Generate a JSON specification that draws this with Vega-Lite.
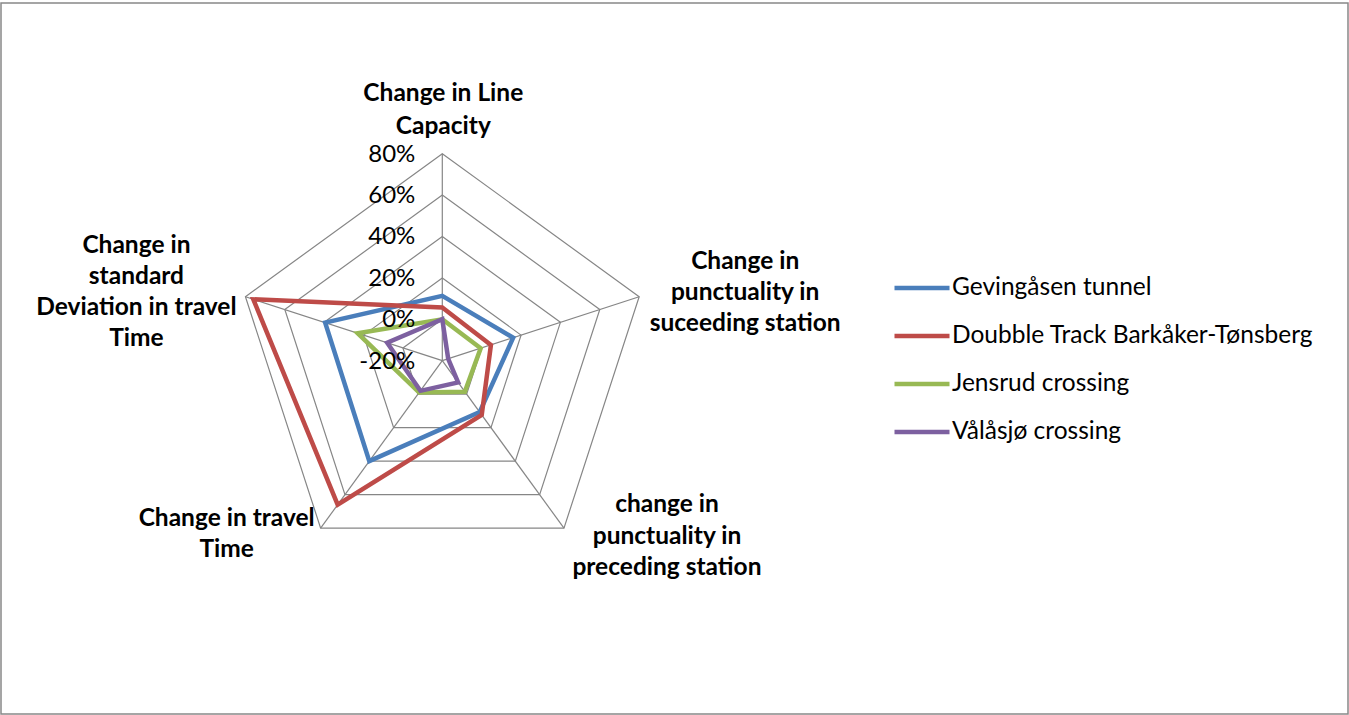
{
  "$schema": "https://vega.github.io/schema/vega-lite/v6.json",
  "width": 1349,
  "height": 715,
  "autosize": {"type": "fit", "contains": "padding"},
  "padding": {"left": 1, "top": 3, "right": 1, "bottom": 1},
  "background": "white",
  "config": {"view": {"stroke": "#888888", "strokeWidth": 1.5}, "font": "Lato"},
  "datasets": {
    "axes": [
      {"axis": "Change in Line Capacity", "idx": 0, "label": "Change in Line\nCapacity"},
      {"axis": "Change in punctuality in suceeding station", "idx": 1, "label": "Change in\npunctuality in\nsuceeding station"},
      {"axis": "change in punctuality in preceding station", "idx": 2, "label": "change in\npunctuality in\npreceding station"},
      {"axis": "Change in travel Time", "idx": 3, "label": "Change in travel\nTime"},
      {"axis": "Change in standard Deviation in travel Time", "idx": 4, "label": "Change in\nstandard\nDeviation in travel\nTime"}
    ],
    "rings": [
      {"level": 0, "k": [0, 1, 2, 3, 4]},
      {"level": 0.2, "k": [0, 1, 2, 3, 4]},
      {"level": 0.4, "k": [0, 1, 2, 3, 4]},
      {"level": 0.6, "k": [0, 1, 2, 3, 4]},
      {"level": 0.8, "k": [0, 1, 2, 3, 4]}
    ],
    "ticks": [
      {"level": -0.2, "text": "-20%"},
      {"level": 0, "text": "0%"},
      {"level": 0.2, "text": "20%"},
      {"level": 0.4, "text": "40%"},
      {"level": 0.6, "text": "60%"},
      {"level": 0.8, "text": "80%"}
    ],
    "scores": [
      {"series": "Gevingåsen tunnel", "axis": "Change in Line Capacity", "value": 0.113},
      {"series": "Gevingåsen tunnel", "axis": "Change in punctuality in suceeding station", "value": 0.16},
      {"series": "Gevingåsen tunnel", "axis": "change in punctuality in preceding station", "value": 0.107},
      {"series": "Gevingåsen tunnel", "axis": "Change in travel Time", "value": 0.40},
      {"series": "Gevingåsen tunnel", "axis": "Change in standard Deviation in travel Time", "value": 0.395},
      {"series": "Doubble Track Barkåker-Tønsberg", "axis": "Change in Line Capacity", "value": 0.057},
      {"series": "Doubble Track Barkåker-Tønsberg", "axis": "Change in punctuality in suceeding station", "value": 0.047},
      {"series": "Doubble Track Barkåker-Tønsberg", "axis": "change in punctuality in preceding station", "value": 0.124},
      {"series": "Doubble Track Barkåker-Tønsberg", "axis": "Change in travel Time", "value": 0.66},
      {"series": "Doubble Track Barkåker-Tønsberg", "axis": "Change in standard Deviation in travel Time", "value": 0.76},
      {"series": "Jensrud crossing", "axis": "Change in Line Capacity", "value": 0.0},
      {"series": "Jensrud crossing", "axis": "Change in punctuality in suceeding station", "value": -0.005},
      {"series": "Jensrud crossing", "axis": "change in punctuality in preceding station", "value": -0.015},
      {"series": "Jensrud crossing", "axis": "Change in travel Time", "value": -0.01},
      {"series": "Jensrud crossing", "axis": "Change in standard Deviation in travel Time", "value": 0.23},
      {"series": "Vålåsjø crossing", "axis": "Change in Line Capacity", "value": 0.0},
      {"series": "Vålåsjø crossing", "axis": "Change in punctuality in suceeding station", "value": -0.17},
      {"series": "Vålåsjø crossing", "axis": "change in punctuality in preceding station", "value": -0.07},
      {"series": "Vålåsjø crossing", "axis": "Change in travel Time", "value": -0.02},
      {"series": "Vålåsjø crossing", "axis": "Change in standard Deviation in travel Time", "value": 0.08}
    ]
  },
  "encoding": {
    "x": {"field": "px", "type": "quantitative", "axis": null, "scale": {"domain": [-213.19, 437.54], "nice": false, "zero": false}},
    "y": {"field": "py", "type": "quantitative", "axis": null, "scale": {"domain": [-170.68, 172.8], "nice": false, "zero": false}}
  },
  "layer": [
    {
      "data": {"name": "rings"},
      "transform": [
        {"flatten": ["k"]},
        {"calculate": "datum.k * 2 * PI / 5", "as": "a"},
        {"calculate": "(datum.level * 100 + 20) * sin(datum.a)", "as": "px"},
        {"calculate": "(datum.level * 100 + 20) * cos(datum.a)", "as": "py"}
      ],
      "mark": {"type": "line", "interpolate": "linear-closed", "stroke": "#868686", "strokeWidth": 1.2},
      "encoding": {
        "detail": {"field": "level", "type": "nominal"},
        "order": {"field": "k", "type": "quantitative"}
      }
    },
    {
      "data": {"name": "axes"},
      "transform": [
        {"calculate": "datum.idx * 2 * PI / 5", "as": "a"},
        {"calculate": "100 * sin(datum.a)", "as": "px"},
        {"calculate": "100 * cos(datum.a)", "as": "py"}
      ],
      "mark": {"type": "rule", "stroke": "#868686", "strokeWidth": 1.2},
      "encoding": {
        "x": {"datum": 0, "type": "quantitative"},
        "y": {"datum": 0, "type": "quantitative"},
        "x2": {"field": "px"},
        "y2": {"field": "py"}
      }
    },
    {
      "data": {"name": "scores"},
      "transform": [
        {"lookup": "axis", "from": {"data": {"name": "axes"}, "key": "axis", "fields": ["idx"]}},
        {"calculate": "datum.idx * 2 * PI / 5", "as": "a"},
        {"calculate": "(datum.value * 100 + 20) * sin(datum.a)", "as": "px"},
        {"calculate": "(datum.value * 100 + 20) * cos(datum.a)", "as": "py"}
      ],
      "mark": {"type": "line", "interpolate": "linear-closed", "strokeWidth": 4.5, "strokeJoin": "miter"},
      "encoding": {
        "color": {
          "field": "series", "type": "nominal",
          "scale": {"domain": ["Gevingåsen tunnel", "Doubble Track Barkåker-Tønsberg", "Jensrud crossing", "Vålåsjø crossing"], "range": ["#4A7EBB", "#BE4B48", "#98B954", "#7D60A0"]},
          "legend": {
            "orient": "none", "legendX": 891, "legendY": 271, "title": null,
            "symbolType": "stroke", "symbolSize": 3025, "symbolStrokeWidth": 4.5,
            "labelFontSize": 24.5, "labelFont": "Lato", "labelColor": "#000000", "labelOffset": 0,
            "rowPadding": 20, "clipHeight": 28, "labelLimit": 500
          }
        },
        "order": {"field": "idx", "type": "quantitative"}
      }
    },
    {
      "data": {"name": "ticks"},
      "transform": [
        {"calculate": "0", "as": "px"},
        {"calculate": "datum.level * 100 + 20", "as": "py"}
      ],
      "mark": {"type": "text", "align": "right", "baseline": "middle", "dx": -27, "dy": 1, "fontSize": 24, "font": "Lato", "color": "#000000"},
      "encoding": {"text": {"field": "text", "type": "nominal"}}
    },
    {
      "data": {"name": "axes"},
      "transform": [
        {"filter": "datum.idx == 0"},
        {"calculate": "datum.idx * 2 * PI / 5", "as": "a"},
        {"calculate": "100 * sin(datum.a)", "as": "px"},
        {"calculate": "100 * cos(datum.a)", "as": "py"}
      ],
      "mark": {"type": "text", "align": "center", "baseline": "middle", "lineBreak": "\n", "lineHeight": 33, "dx": 1, "dy": -60, "fontSize": 24.5, "fontWeight": "bold", "font": "Lato", "color": "#000000"},
      "encoding": {"text": {"field": "label", "type": "nominal"}}
    },
    {
      "data": {"name": "axes"},
      "transform": [
        {"filter": "datum.idx == 1"},
        {"calculate": "datum.idx * 2 * PI / 5", "as": "a"},
        {"calculate": "100 * sin(datum.a)", "as": "px"},
        {"calculate": "100 * cos(datum.a)", "as": "py"}
      ],
      "mark": {"type": "text", "align": "center", "baseline": "middle", "lineBreak": "\n", "lineHeight": 31, "dx": 106, "dy": -35, "fontSize": 24.5, "fontWeight": "bold", "font": "Lato", "color": "#000000"},
      "encoding": {"text": {"field": "label", "type": "nominal"}}
    },
    {
      "data": {"name": "axes"},
      "transform": [
        {"filter": "datum.idx == 2"},
        {"calculate": "datum.idx * 2 * PI / 5", "as": "a"},
        {"calculate": "100 * sin(datum.a)", "as": "px"},
        {"calculate": "100 * cos(datum.a)", "as": "py"}
      ],
      "mark": {"type": "text", "align": "center", "baseline": "middle", "lineBreak": "\n", "lineHeight": 31.5, "dx": 103, "dy": -23, "fontSize": 24.5, "fontWeight": "bold", "font": "Lato", "color": "#000000"},
      "encoding": {"text": {"field": "label", "type": "nominal"}}
    },
    {
      "data": {"name": "axes"},
      "transform": [
        {"filter": "datum.idx == 3"},
        {"calculate": "datum.idx * 2 * PI / 5", "as": "a"},
        {"calculate": "100 * sin(datum.a)", "as": "px"},
        {"calculate": "100 * cos(datum.a)", "as": "py"}
      ],
      "mark": {"type": "text", "align": "center", "baseline": "middle", "lineBreak": "\n", "lineHeight": 31, "dx": -94, "dy": -9, "fontSize": 24.5, "fontWeight": "bold", "font": "Lato", "color": "#000000"},
      "encoding": {"text": {"field": "label", "type": "nominal"}}
    },
    {
      "data": {"name": "axes"},
      "transform": [
        {"filter": "datum.idx == 4"},
        {"calculate": "datum.idx * 2 * PI / 5", "as": "a"},
        {"calculate": "100 * sin(datum.a)", "as": "px"},
        {"calculate": "100 * cos(datum.a)", "as": "py"}
      ],
      "mark": {"type": "text", "align": "center", "baseline": "middle", "lineBreak": "\n", "lineHeight": 31, "dx": -109, "dy": -51, "fontSize": 24.5, "fontWeight": "bold", "font": "Lato", "color": "#000000"},
      "encoding": {"text": {"field": "label", "type": "nominal"}}
    }
  ]
}
